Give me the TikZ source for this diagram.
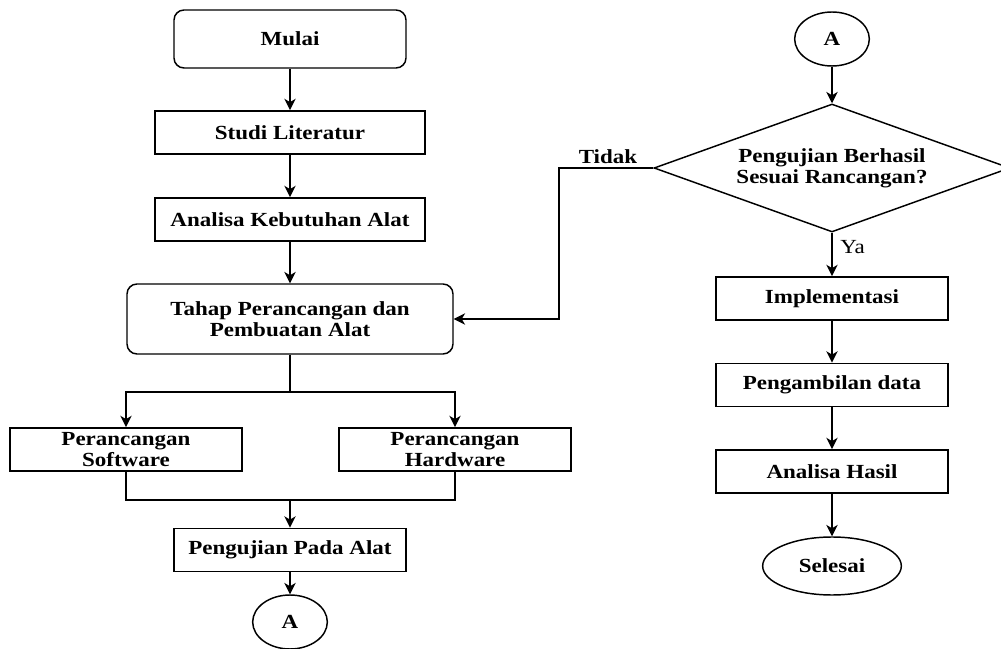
\documentclass[tikz,border=0pt]{standalone}
\usepackage{fontspec}
\setmainfont{Liberation Serif}[FakeStretch=1.15]
\usetikzlibrary{shapes.geometric, arrows.meta}

\tikzset{
    kotak/.style={draw, line width=1.1pt, align=center, inner sep=0pt,
        font=\bfseries\fontsize{15}{16}\selectfont},
    proses/.style={kotak, rectangle, minimum width=174pt, minimum height=32.5pt},
    terminal/.style={kotak, rectangle, rounded corners=7.5pt},
    konektor/.style={kotak, ellipse, minimum width=56pt, minimum height=40.5pt},
    keputusan/.style={kotak, diamond, aspect=2.78, minimum width=267pt, minimum height=96pt},
    panah/.style={line width=1.1pt, -{Stealth[length=8.5pt, width=8.5pt, inset=2.5pt]}},
    garis/.style={line width=1.1pt}
}

\begin{document}
\begin{tikzpicture}[x=0.75pt, y=-0.75pt]
                \useasboundingbox (0,0) rectangle (1001,649);
                % kolom kiri
                \node[terminal, minimum width=174pt, minimum height=43.5pt] (mulai) at (290,39) {Mulai};
                \node[proses, minimum width=202.5pt] (studi) at (290,132.5) {Studi Literatur};
                \node[proses, minimum width=202.5pt] (analisa) at (290,219.5) {Analisa Kebutuhan Alat};
                \node[terminal, minimum width=244.5pt, minimum height=52.5pt] (tahap) at (290,319) {Tahap Perancangan dan\\Pembuatan Alat};
                \node[proses] (software) at (126,449.5) {Perancangan\\Software};
                \node[proses] (hardware) at (455,449.5) {Perancangan\\Hardware};
                \node[proses] (uji) at (290,550) {Pengujian Pada Alat};
                \node[konektor] (konA) at (290,622) {A};
                % kolom kanan
                \node[konektor] (konB) at (832,39) {A};
                \node[keputusan] (cek) at (832,168) {Pengujian Berhasil\\Sesuai Rancangan?};
                \node[proses] (impl) at (832,298.5) {Implementasi};
                \node[proses] (ambil) at (832,385) {Pengambilan data};
                \node[proses] (hasil) at (832,471.5) {Analisa Hasil};
                \node[kotak, ellipse, minimum width=104pt, minimum height=43.5pt] (selesai) at (832,566) {Selesai};

                \foreach \a/\b in {mulai/studi, studi/analisa, analisa/tahap, uji/konA,
                                   konB/cek, impl/ambil, ambil/hasil, hasil/selesai}{
                    \draw[panah] (\a) -- (\b);
                }
                \coordinate (cabang) at (290,392);
                \coordinate (gabung) at (290,500);
                \coordinate (belok) at (559,168);
                \draw[garis] (tahap.south) -- (cabang);
                \foreach \s in {software, hardware}{
                    \draw[panah] (cabang) -| (\s.north);
                }
                \draw[garis] (software.south) |- (gabung) -| (hardware.south);
                \draw[panah] (gabung) -- (uji);
                \draw[panah] (cek.west) -- (belok) |- (tahap.east);
                \draw[panah] (cek.south) -- (impl);
                \node[anchor=base, inner sep=0pt, font=\bfseries\fontsize{15}{16}\selectfont] (tidak) at (608,164) {Tidak};
                \node[anchor=west, inner sep=0pt, font=\fontsize{15}{16}\selectfont] (ya) at (840,247) {Ya};
            \end{tikzpicture}
\end{document}
